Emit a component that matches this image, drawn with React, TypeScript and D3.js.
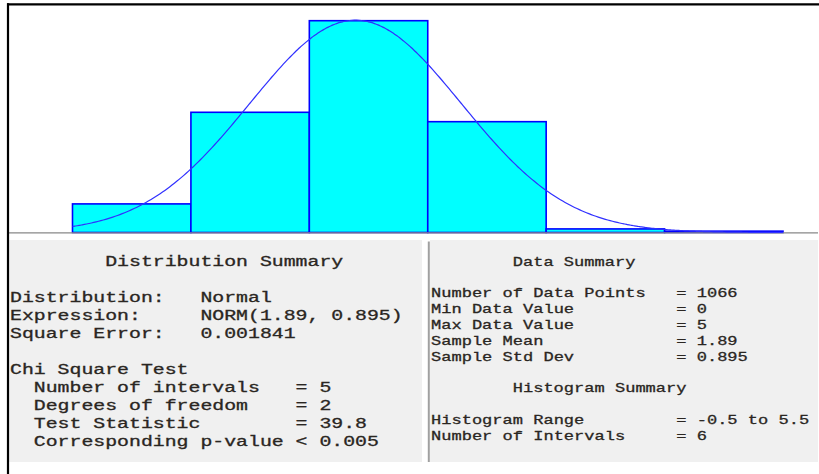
import React from "react";
import * as d3 from "d3";

// ---- data ----
const binCenters = [0, 1, 2, 3, 4, 5];
const binCounts = [64, 269, 474, 248, 8, 3];
const nPoints = 1066;
const fitMean = 1.89;
const fitSd = 0.895;
const histRange = [-0.5, 5.5];

const distTitle = "Distribution Summary";
const distLabels = ["Distribution:", "Expression:", "Square Error:"];
const distValues = ["Normal", "NORM(1.89, 0.895)", "0.001841"];
const chiTitle = "Chi Square Test";
const chiLabels = ["Number of intervals", "Degrees of freedom", "Test Statistic", "Corresponding p-value"];
const chiValues = ["= 5", "= 2", "= 39.8", "< 0.005"];

const dataTitle = "Data Summary";
const dataLabels = ["Number of Data Points", "Min Data Value", "Max Data Value", "Sample Mean", "Sample Std Dev"];
const dataValues = ["= 1066", "= 0", "= 5", "= 1.89", "= 0.895"];
const histTitle = "Histogram Summary";
const histLabels = ["Histogram Range", "Number of Intervals"];
const histValues = ["= -0.5 to 5.5", "= 6"];

const W = 819;
const H = 474;

const FONT = "'Liberation Mono', 'DejaVu Sans Mono', monospace";
const TXT = "#2a2622";

function T({ x, y, s, cw, fs }: { x: number; y: number; s: string; cw: number; fs: number }) {
  return (
    <text
      x={x}
      y={y}
      fontFamily={FONT}
      fontSize={fs}
      fill={TXT}
      stroke={TXT}
      strokeWidth={0.3}
      textLength={s.length * cw}
      lengthAdjust="spacingAndGlyphs"
      style={{ whiteSpace: "pre" }}
    >
      {s}
    </text>
  );
}

export default function App() {
  const x = d3.scaleLinear().domain(histRange).range([72.5, 783]);
  const y = d3.scaleLinear().domain([0, d3.max(binCounts)!]).range([232.5, 20.7]);

  const pdf = (v: number) =>
    (1 / (fitSd * Math.sqrt(2 * Math.PI))) * Math.exp(-0.5 * ((v - fitMean) / fitSd) ** 2);
  const curvePts = d3.range(histRange[0], histRange[1] + 0.0001, 0.02).map((v) => [v, nPoints * pdf(v)] as [number, number]);
  const line = d3
    .line<[number, number]>()
    .x((d) => x(d[0]))
    .y((d) => y(d[1]))
    .curve(d3.curveBasis);

  // left panel grid
  const lx0 = 10, lcw = 11.9, lfs = 14.5, lrow0 = 265.5, lstep = 18;
  // right panel grid
  const rx0 = 431, rcw = 10.22, rfs = 13.5, rrow0 = 265.7, rstep = 15.8;

  return (
    <svg
      width={W}
      height={H}
      style={{ position: "absolute", left: 0, top: 0, background: "#fff" }}
    >
      <rect x={0} y={0} width={W} height={H} fill="#fff" />
      {/* bars */}
      {binCenters.map((c, i) => (
        <rect
          key={i}
          x={x(c - 0.5)}
          y={y(binCounts[i])}
          width={x(c + 0.5) - x(c - 0.5)}
          height={y(0) - y(binCounts[i])}
          fill="#00ffff"
          stroke="#0000ff"
          strokeWidth={1.6}
        />
      ))}
      {/* baseline */}
      <line x1={9} x2={818} y1={232.8} y2={232.8} stroke="#888" strokeWidth={1.3} />
      {/* fitted curve */}
      <path d={line(curvePts) || ""} fill="none" stroke="#3030ff" strokeWidth={1.2} />

      {/* panels */}
      <rect x={9} y={240} width={413} height={222} fill="#f0f0f0" />
      <rect x={430} y={240} width={388} height={222} fill="#f0f0f0" />
      <line x1={428.8} x2={428.8} y1={241.5} y2={462} stroke="#a0a0a0" strokeWidth={2} />

      {/* frame */}
      <line x1={7} x2={W} y1={4.3} y2={4.3} stroke="#000" strokeWidth={2.2} />
      <line x1={8} x2={8} y1={3.2} y2={H} stroke="#000" strokeWidth={2.2} />

      {/* left text */}
      <T x={lx0 + 8 * lcw} y={lrow0} s={distTitle} cw={lcw} fs={lfs} />
      {distLabels.map((l, i) => (
        <g key={"d" + i}>
          <T x={lx0} y={lrow0 + (2 + i) * lstep} s={l} cw={lcw} fs={lfs} />
          <T x={lx0 + 16 * lcw} y={lrow0 + (2 + i) * lstep} s={distValues[i]} cw={lcw} fs={lfs} />
        </g>
      ))}
      <T x={lx0} y={lrow0 + 6 * lstep} s={chiTitle} cw={lcw} fs={lfs} />
      {chiLabels.map((l, i) => (
        <g key={"c" + i}>
          <T x={lx0 + 2 * lcw} y={lrow0 + (7 + i) * lstep} s={l} cw={lcw} fs={lfs} />
          <T x={lx0 + 24 * lcw} y={lrow0 + (7 + i) * lstep} s={chiValues[i]} cw={lcw} fs={lfs} />
        </g>
      ))}

      {/* right text */}
      <T x={rx0 + 8 * rcw} y={rrow0} s={dataTitle} cw={rcw} fs={rfs} />
      {dataLabels.map((l, i) => (
        <g key={"r" + i}>
          <T x={rx0} y={rrow0 + (2 + i) * rstep} s={l} cw={rcw} fs={rfs} />
          <T x={rx0 + 24 * rcw} y={rrow0 + (2 + i) * rstep} s={dataValues[i]} cw={rcw} fs={rfs} />
        </g>
      ))}
      <T x={rx0 + 8 * rcw} y={rrow0 + 8 * rstep} s={histTitle} cw={rcw} fs={rfs} />
      {histLabels.map((l, i) => (
        <g key={"h" + i}>
          <T x={rx0} y={rrow0 + (10 + i) * rstep} s={l} cw={rcw} fs={rfs} />
          <T x={rx0 + 24 * rcw} y={rrow0 + (10 + i) * rstep} s={histValues[i]} cw={rcw} fs={rfs} />
        </g>
      ))}
    </svg>
  );
}
